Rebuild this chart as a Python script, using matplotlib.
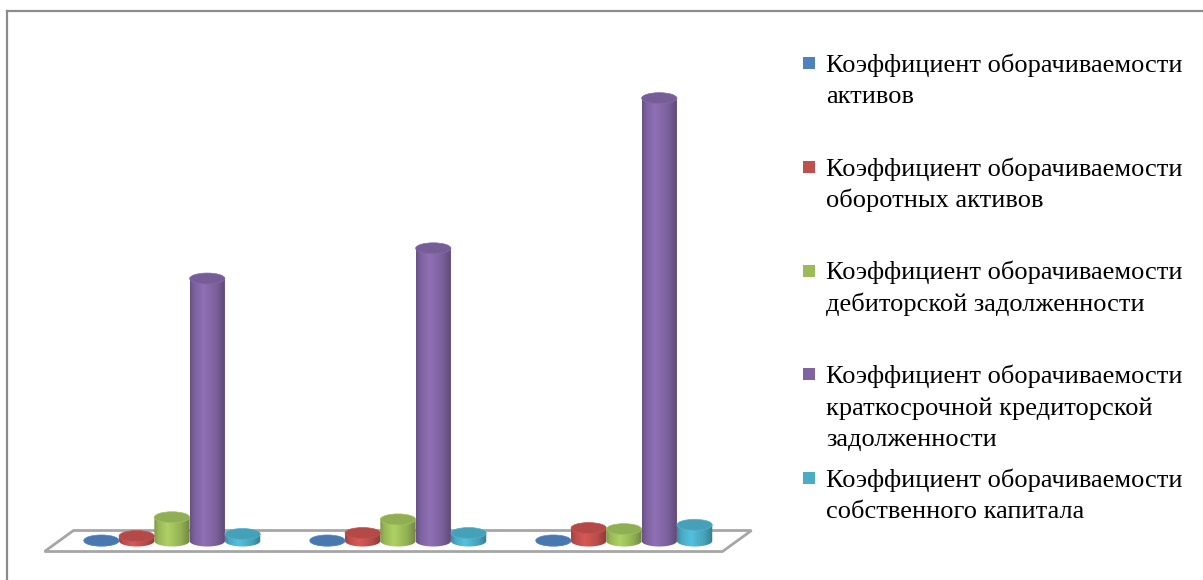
import numpy as np
import matplotlib.pyplot as plt
from matplotlib.patches import Ellipse, Polygon, Rectangle
from matplotlib.lines import Line2D
from matplotlib.colors import to_rgb

# Turnover ratios for three periods
assets_turnover = [0.05, 0.05, 0.05]
current_assets_turnover = [0.46, 0.74, 1.2]
receivables_turnover = [2.2, 2.0, 1.1]
payables_turnover = [24.3, 27.1, 41.0]
equity_turnover = [0.65, 0.74, 1.5]

series_values = [assets_turnover, current_assets_turnover, receivables_turnover,
                 payables_turnover, equity_turnover]
series_names = [
    'Коэффициент оборачиваемости\nактивов',
    'Коэффициент оборачиваемости\nоборотных активов',
    'Коэффициент оборачиваемости\nдебиторской задолженности',
    'Коэффициент оборачиваемости\nкраткосрочной кредиторской\nзадолженности',
    'Коэффициент оборачиваемости\nсобственного капитала',
]
colors = ['#4F81BD', '#C0504D', '#9BBB59', '#8064A2', '#4BACC6']

W, H = 1203, 580
fig = plt.figure(figsize=(W / 100, H / 100), dpi=100)
ax = fig.add_axes([0, 0, 1, 1])
ax.axis('off')

XLIM = (-0.761, 4.562)
YLIM = (-3.61, 50.09)
px_x = W / (XLIM[1] - XLIM[0])
px_y = H / (YLIM[1] - YLIM[0])

bar_w = 35.3 / px_x
rx = bar_w / 2
ry = 5.5 / px_y
n_groups = len(assets_turnover)
n_series = len(series_values)


def shade(c, f):
    return tuple(np.clip(np.array(to_rgb(c)) * f, 0, 1))


def cylinder(x, h, color):
    t = np.linspace(0, -np.pi, 40)
    pts = [(x - rx, h), (x + rx, h)] + [(x + rx * np.cos(a), ry * np.sin(a)) for a in t]
    body = Polygon(pts, closed=True, transform=ax.transData, fc='none', ec='none')
    ax.add_patch(body)
    u = np.linspace(0, 1, 60)
    f = np.interp(u, [0, 0.12, 0.38, 0.75, 1], [0.82, 0.98, 1.12, 0.95, 0.72])
    grad = np.array([shade(color, k) for k in f])[None, :, :]
    im = ax.imshow(grad, extent=[x - rx, x + rx, -ry, h + ry], aspect='auto',
                   interpolation='bilinear', zorder=2)
    im.set_clip_path(body)
    ax.add_patch(Ellipse((x, h), 2 * rx, 2 * ry, fc=shade(color, 0.93),
                         ec=shade(color, 1.05), lw=0.5, zorder=3))


# floor of the chart
dx = 14.5 / px_x
dy = 10.5 / px_y
floor = Polygon([(-0.5 - dx, -dy), (n_groups - 0.5 - dx, -dy),
                 (n_groups - 0.5 + dx, dy), (-0.5 + dx, dy)],
                closed=True, fill=False, ec='#A6A6A6', lw=2, zorder=1)
ax.add_patch(floor)

for g in range(n_groups):
    for s in range(n_series):
        x = g + (s - (n_series - 1) / 2) * bar_w
        cylinder(x, series_values[s][g], colors[s])

ax.set_xlim(*XLIM)
ax.set_ylim(*YLIM)

# outer frame
fig.add_artist(Line2D([6.5 / W, 1], [1 - 10.5 / H] * 2, transform=fig.transFigure,
                      color='#8C8C8C', lw=1.6))
fig.add_artist(Line2D([6.5 / W] * 2, [0, 1 - 10.5 / H], transform=fig.transFigure,
                      color='#8C8C8C', lw=1.6))

# legend
font = dict(family='Liberation Serif', size=19, color='black')
for i, (name, c) in enumerate(zip(series_names, colors)):
    base = 72 + 103.75 * i
    fig.add_artist(Rectangle((803 / W, 1 - (base - 3) / H), 12 / W, 12 / H,
                             transform=fig.transFigure, fc=c, ec='none'))
    for j, line in enumerate(name.split('\n')):
        fig.text(826 / W, 1 - (base + 31.5 * j) / H, line, ha='left',
                 va='baseline', **font)

fig.savefig('out.png', dpi=100)
